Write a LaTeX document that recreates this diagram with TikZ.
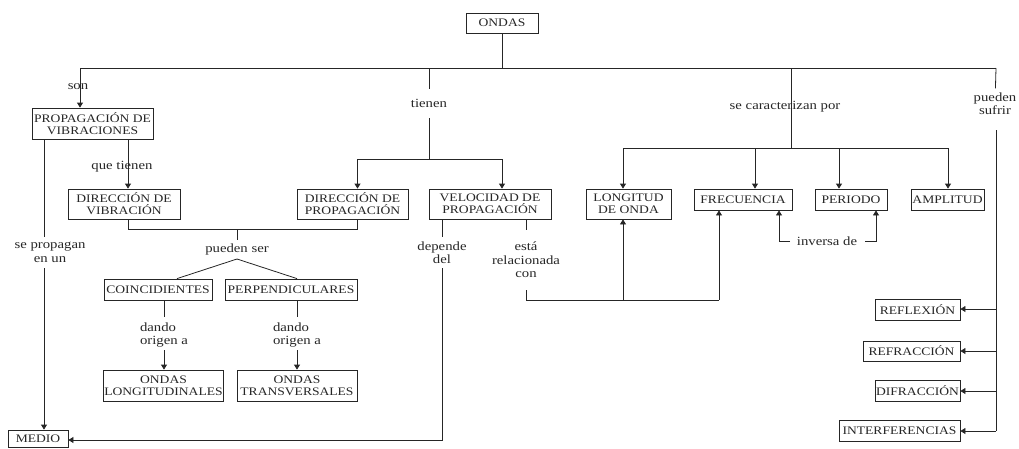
\documentclass[tikz,border=0pt]{standalone}
\usepackage{fontspec}
\setmainfont{Liberation Serif}[FakeStretch=1.18]
\usepackage{tikz}
\usetikzlibrary{arrows.meta}

\begin{document}
\begin{tikzpicture}[%
x=1pt,
y=-1pt,
box/.style={draw=black!85, line width=0.8pt, inner sep=1pt, align=center, text=black!85, font=\fontsize{11.5}{12}\selectfont},
lbl/.style={inner sep=0pt, align=center, text=black!85, font=\fontsize{12.5}{13.5}\selectfont},
line/.style={draw=black!85, line width=0.8pt},
arr/.style={draw=black!85, line width=0.8pt, -{Triangle[length=5pt,width=6pt]}},
]
\useasboundingbox (0,0) rectangle (1019,448);

%Cajas
\node[box, minimum width=72, minimum height=20] (ondas) at (502,23) {ONDAS};
\node[box, minimum width=121, minimum height=31] (prop) at (92.5,123.5) {PROPAGACIÓN DE\\VIBRACIONES};
\node[box, minimum width=112, minimum height=30] (dvib) at (124,204) {DIRECCIÓN DE\\VIBRACIÓN};
\node[box, minimum width=111, minimum height=30] (dprop) at (352.5,204) {DIRECCIÓN DE\\PROPAGACIÓN};
\node[box, minimum width=122, minimum height=30] (vel) at (490,204) {VELOCIDAD DE\\PROPAGACIÓN};
\node[box, minimum width=85, minimum height=30] (lon) at (628.5,204) {LONGITUD\\DE ONDA};
\node[box, minimum width=98, minimum height=21] (frec) at (743,199.5) {FRECUENCIA};
\node[box, minimum width=72, minimum height=21] (per) at (851,199.5) {PERIODO};
\node[box, minimum width=73, minimum height=21] (amp) at (947.5,199.5) {AMPLITUD};
\node[box, minimum width=108, minimum height=21] (coin) at (158,289.5) {COINCIDIENTES};
\node[box, minimum width=132, minimum height=21] (perp) at (291,289.5) {PERPENDICULARES};
\node[box, minimum width=119, minimum height=31] (olong) at (163.5,385.5) {ONDAS\\LONGITUDINALES};
\node[box, minimum width=120, minimum height=31] (otrans) at (297,385.5) {ONDAS\\TRANSVERSALES};
\node[box, minimum width=60, minimum height=17] (medio) at (38,438.5) {MEDIO};
\node[box, minimum width=85, minimum height=21] (refl) at (917.5,309.5) {REFLEXIÓN};
\node[box, minimum width=97, minimum height=20] (refr) at (911.5,351) {REFRACCIÓN};
\node[box, minimum width=85, minimum height=21] (difr) at (917.5,390.5) {DIFRACCIÓN};
\node[box, minimum width=121, minimum height=21] (inter) at (899.5,430.5) {INTERFERENCIAS};

%Etiquetas
\node[lbl] (son) at (78,87) {son};
\node[lbl, minimum height=29] (tienen) at (429,103.5) {tienen};
\node[lbl] (carac) at (785,107) {se caracterizan por};
\node[lbl, minimum height=30] (sufrir) at (995,103.5) {pueden\\sufrir};
\node[lbl] (quet) at (122,167) {que tienen};
\node[lbl] (propag) at (50,252.5) {se propagan\\en un};
\node[lbl] (dep) at (442,252.5) {depende\\del};
\node[lbl] (rel) at (526,260) {está\\relacionada\\con};
\node[lbl] (pser) at (237,249.5) {pueden ser};
\node[lbl, align=left] (dando1) at (164,335) {dando\\origen a};
\node[lbl, align=left] (dando2) at (297,335) {dando\\origen a};
\node[lbl] (inv) at (827,241) {inversa de};

%Puntos
\coordinate (bl) at (80,68);
\coordinate (br) at (996,68);
\coordinate (t0) at (429,68);
\coordinate (t1) at (429,159);
\coordinate (c0) at (791,68);
\coordinate (c1) at (791,148);
\coordinate (cl) at (623,148);
\coordinate (cf) at (755,148);
\coordinate (cp) at (839,148);
\coordinate (cr) at (948,148);
\coordinate (s1) at (996,130);
\coordinate (s2) at (996,309);
\coordinate (s3) at (996,351);
\coordinate (s4) at (996,391);
\coordinate (s5) at (996,431);
\coordinate (p1) at (44,237);
\coordinate (p2) at (44,268);
\coordinate (d1) at (442,237);
\coordinate (d2) at (442,268);
\coordinate (d3) at (442,440);
\coordinate (r0) at (526,230);
\coordinate (r1) at (526,290);
\coordinate (r2) at (526,300);
\coordinate (r3) at (623,300);
\coordinate (r4) at (719,300);
\coordinate (v0) at (237,229);
\coordinate (v1) at (128,229);
\coordinate (v2) at (357,229);
\coordinate (v3) at (237,240);
\coordinate (apex) at (237,259);
\coordinate (g1) at (164,317);
\coordinate (g2) at (164,350);
\coordinate (h1) at (297,317);
\coordinate (h2) at (297,350);
\coordinate (i0) at (779,241);
\coordinate (i1) at (790,241);
\coordinate (i2) at (865,241);
\coordinate (i3) at (876,241);

%Conectores
\draw[line] (ondas) -- (ondas |- bl);
\draw[line] (bl) -- (br);
\draw[arr] (bl) -- (bl |- prop.north);
\draw[line] (t0) -- (tienen);
\draw[line] (tienen) -- (t1);
\draw[arr] (t1) -| ([xshift=5pt]dprop.north);
\draw[arr] (t1) -| ([xshift=12pt]vel.north);
\draw[line] (c0) -- (c1);
\draw[line] (cl) -- (cr);
\draw[arr] (cl) -- (cl |- lon.north);
\draw[arr] (cf) -- (cf |- frec.north);
\draw[arr] (cp) -- (cp |- per.north);
\draw[arr] (cr) -- (cr |- amp.north);
\draw[line] (br) -- (sufrir);
\draw[line] (s1) -- (s5);
\draw[arr] (s2) -- (s2 -| refl.east);
\draw[arr] (s3) -- (s3 -| refr.east);
\draw[arr] (s4) -- (s4 -| difr.east);
\draw[arr] (s5) -- (s5 -| inter.east);
\draw[arr] ([xshift=35.5pt]prop.south) -- ([xshift=4pt]dvib.north);
\draw[line] (prop.south -| p1) -- (p1);
\draw[arr] (p2) -- (p2 |- medio.north);
\draw[line] (vel.south -| d1) -- (d1);
\draw[arr] (d2) -- (d3) -- (d3 -| medio.east);
\draw[line] (vel.south -| r0) -- (r0);
\draw[line] (r1) -- (r2) -- (r4);
\draw[arr] (r3) -- (r3 |- lon.south);
\draw[arr] (r4) -- (r4 |- frec.south);
\draw[line] (dvib.south -| v1) -- (v1) -- (v2) -- (v2 |- dprop.south);
\draw[line] (v0) -- (v3);
\draw[line] ([xshift=19pt]coin.north) -- (apex) -- ([xshift=6pt]perp.north);
\draw[line] (coin.south -| g1) -- (g1);
\draw[arr] (g2) -- (g2 |- olong.north);
\draw[line] (perp.south -| h1) -- (h1);
\draw[arr] (h2) -- (h2 |- otrans.north);
\draw[arr] (i1) -- (i0) -- (i0 |- frec.south);
\draw[arr] (i2) -- (i3) -- (i3 |- per.south);

\end{tikzpicture}
\end{document}
